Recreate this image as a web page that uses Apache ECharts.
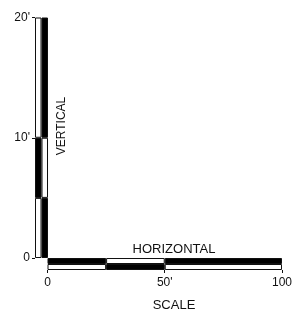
<!DOCTYPE html>
<html>
<head>
<meta charset="utf-8">
<script src="https://cdn.jsdelivr.net/npm/echarts@6/dist/echarts.min.js"></script>
<style>html,body{margin:0;padding:0;background:#fff;}#c{width:295px;height:317px;}</style>
</head>
<body>
<div id="c"></div>
<script>
// Vertical scale (feet): segment lengths from 0 upward
const vSegments = [5, 5, 10];
const vLeftFill = ['white', 'black', 'white'];
const vRightFill = ['black', 'white', 'black'];
const vTickValues = [0, 10, 20];
const vTickLabels = ['0', "10'", "20'"];

// Horizontal scale (feet): segment lengths from 0 rightward
const hSegments = [25, 25, 50];
const hTopFill = ['black', 'white', 'black'];
const hBottomFill = ['white', 'black', 'white'];
const hTickValues = [0, 50, 100];
const hTickLabels = ['0', "50'", '100'];

const FONT = 'Liberation Sans, Arial, sans-serif';
const INK = '#111';

const chart = echarts.init(document.getElementById('c'));

const series = [];
vSegments.forEach((len, i) => {
  series.push({
    type: 'bar', xAxisIndex: 0, yAxisIndex: 0, stack: 'v',
    barCategoryGap: '0%', barGap: '0%',
    data: [
      { value: len, itemStyle: { color: vLeftFill[i] } },
      { value: len, itemStyle: { color: vRightFill[i] } }
    ],
    itemStyle: { borderColor: INK, borderWidth: 1 },
    silent: true
  });
});
hSegments.forEach((len, i) => {
  series.push({
    type: 'bar', xAxisIndex: 1, yAxisIndex: 1, stack: 'h',
    barCategoryGap: '0%', barGap: '0%',
    data: [
      { value: len, itemStyle: { color: hTopFill[i] } },
      { value: len, itemStyle: { color: hBottomFill[i] } }
    ],
    itemStyle: { borderColor: INK, borderWidth: 1 },
    silent: true
  });
});

const labelFmt = (vals, labs) => (v) => {
  const k = vals.indexOf(v);
  return k >= 0 ? labs[k] : '';
};

chart.setOption({
  animation: false,
  grid: [
    { left: 35, top: 17.5, width: 13, height: 240.5 },
    { left: 47.5, top: 258, width: 237.5, height: 12 }
  ],
  xAxis: [
    { gridIndex: 0, type: 'category', data: ['L', 'R'], show: false },
    {
      gridIndex: 1, type: 'value', min: 0, max: 100, interval: 50,
      axisLine: { show: false },
      axisTick: { show: true, length: 3, lineStyle: { color: INK } },
      splitLine: { show: false },
      axisLabel: { color: INK, fontSize: 12, fontFamily: FONT, margin: 7,
        formatter: labelFmt(hTickValues, hTickLabels) }
    }
  ],
  yAxis: [
    {
      gridIndex: 0, type: 'value', min: 0, max: 20, interval: 10,
      axisLine: { show: false },
      axisTick: { show: true, length: 3, lineStyle: { color: INK } },
      splitLine: { show: false },
      axisLabel: { color: INK, fontSize: 12, fontFamily: FONT, margin: 5,
        formatter: labelFmt(vTickValues, vTickLabels) }
    },
    { gridIndex: 1, type: 'category', data: ['top', 'bottom'], inverse: true, show: false }
  ],
  graphic: [
    { type: 'text', x: 62, y: 126, rotation: Math.PI / 2,
      style: { text: 'VERTICAL', fill: INK, font: '12px ' + FONT, align: 'center', verticalAlign: 'middle' } },
    { type: 'text', x: 174, y: 249,
      style: { text: 'HORIZONTAL', fill: INK, font: '13px ' + FONT, align: 'center', verticalAlign: 'middle' } },
    { type: 'text', x: 174, y: 305,
      style: { text: 'SCALE', fill: INK, font: '13px ' + FONT, align: 'center', verticalAlign: 'middle' } }
  ],
  series: series
});
</script>
</body>
</html>
